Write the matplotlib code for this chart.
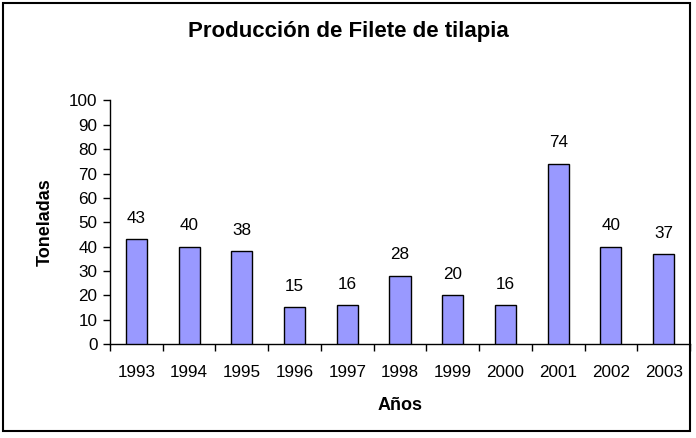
import numpy as np
import matplotlib.pyplot as plt
from matplotlib.patches import Rectangle

plt.rcParams["font.family"] = ["Liberation Sans", "DejaVu Sans"]

years = ["1993", "1994", "1995", "1996", "1997", "1998", "1999", "2000", "2001", "2002", "2003"]
toneladas = [43, 40, 38, 15, 16, 28, 20, 16, 74, 40, 37]

fig = plt.figure(figsize=(6.96, 4.38), dpi=100)
fig.patches.append(Rectangle((3 / 696, 1 - 431 / 438), 687 / 696, 428 / 438,
                             transform=fig.transFigure, fill=False,
                             edgecolor="black", linewidth=1.5))

ax = fig.add_axes([110 / 696, 1 - 344 / 438, 580 / 696, 243.5 / 438])
x = np.arange(len(years))
ax.bar(x, toneladas, width=0.4, color="#9999FF", edgecolor="black", linewidth=1.0, zorder=3)
for xi, v in zip(x, toneladas):
    ax.annotate(f"{v}", (xi, v), xytext=(0, 15), textcoords="offset points",
                ha="center", va="center", fontsize=12.3)

ax.set_xlim(-0.5, len(years) - 0.5)
ax.set_ylim(0, 100)
ax.set_yticks(range(0, 101, 10))
ax.set_xticks(x)
ax.set_xticklabels(years)
ax.set_xticks(np.arange(-0.5, len(years), 1.0), minor=True)
ax.tick_params(axis="x", which="major", length=0, pad=15, labelsize=12.3)
ax.tick_params(axis="x", which="minor", length=5, direction="out", width=1)
ax.tick_params(axis="y", length=5, direction="out", width=1, labelsize=12.3, pad=4)
for side in ["top", "right"]:
    ax.spines[side].set_visible(False)
ax.spines["left"].set_linewidth(1)
ax.spines["bottom"].set_linewidth(1)

ax.set_ylabel("Toneladas", fontsize=13, fontweight="bold", va="center")
ax.set_xlabel("Años", fontsize=13, fontweight="bold", va="center")
ax.yaxis.set_label_coords((45 - 110) / 580, 0.5)
ax.xaxis.set_label_coords(0.5, (344 - 405) / 243.5)
fig.text(348 / 696, 1 - 32 / 438, "Producción de Filete de tilapia", ha="center", va="center",
         fontsize=16, fontweight="bold")

fig.savefig("out.png", dpi=100)
